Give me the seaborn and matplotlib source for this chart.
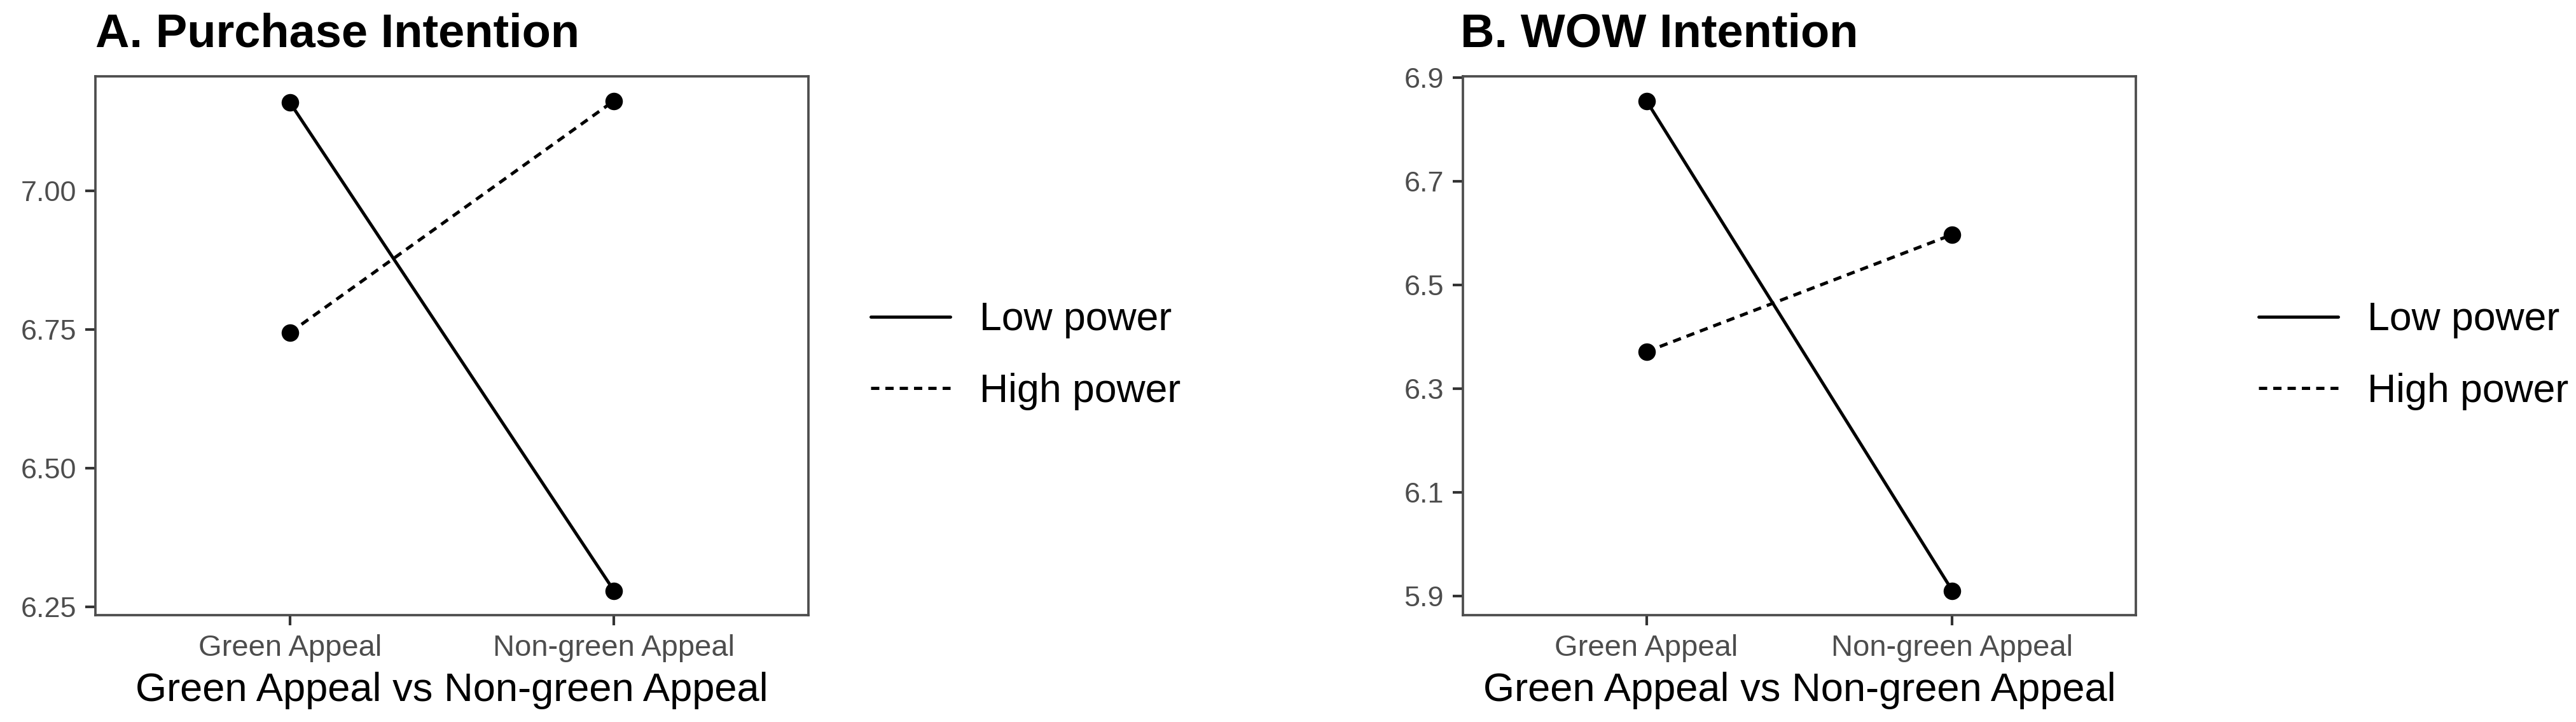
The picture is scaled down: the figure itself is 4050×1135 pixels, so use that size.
import numpy as np
import pandas as pd
import matplotlib
matplotlib.use("Agg")
import matplotlib.pyplot as plt
from matplotlib.lines import Line2D
import seaborn as sns

# values
conditions = ["Green Appeal", "Non-green Appeal"]
powers = ["Low power", "High power"]
purchase_low = [7.159, 6.279]
purchase_high = [6.744, 7.162]
wow_low = [6.855, 5.910]
wow_high = [6.371, 6.597]

purchase_ticks = [6.25, 6.50, 6.75, 7.00]
wow_ticks = [5.9, 6.1, 6.3, 6.5, 6.7, 6.9]

titles = ["A. Purchase Intention", "B. WOW Intention"]
xlabel = "Green Appeal vs Non-green Appeal"

sns.set_style("white")
plt.rcParams['font.family'] = ['Liberation Sans', 'DejaVu Sans']

W, H = 4050, 1135
DPI = 300
fig = plt.figure(figsize=(W / DPI, H / DPI), dpi=DPI)

DASH = (0, (2.6, 1.9))
LW = 1.2


def make_df(low, high):
    return pd.DataFrame({
        'condition': conditions * 2,
        'power': [powers[0]] * 2 + [powers[1]] * 2,
        'value': list(low) + list(high),
    })


def draw_panel(rect, df, ticks, fmt, title, title_x, legend_x):
    ax = fig.add_axes(rect)
    sns.lineplot(data=df, x='condition', y='value', style='power',
                 style_order=powers, color='black', markers={p: 'o' for p in powers},
                 dashes={powers[0]: '', powers[1]: DASH[1]},
                 linewidth=LW, markersize=6.6, markeredgewidth=0,
                 legend=False, ax=ax, sort=False)
    lo, hi = df['value'].min(), df['value'].max()
    pad = (hi - lo) * 0.05
    ax.set_ylim(lo - pad, hi + pad)
    ax.set_xlim(-0.6, 1.6)
    ax.set_xticks([0, 1])
    ax.set_xticklabels(conditions)
    ax.set_yticks(ticks)
    ax.set_yticklabels([fmt % t for t in ticks])
    ax.tick_params(axis='both', bottom=True, left=True, length=3.8, width=1.0,
                   color='#333333', labelcolor='#4d4d4d', pad=3.4)
    ax.tick_params(axis='y', labelsize=10.8)
    ax.tick_params(axis='x', labelsize=11.3)
    for s in ax.spines.values():
        s.set_visible(True)
        s.set_color('#4d4d4d')
        s.set_linewidth(0.9)
    ax.grid(False)
    ax.set_ylabel('')
    ax.set_xlabel(xlabel, fontsize=15.2, color='black', labelpad=3.5)
    fig.text(title_x / W, 1 - 73 / H, title, fontsize=17.8, fontweight='bold',
             color='black', ha='left', va='baseline')
    handles = [Line2D([], [], color='black', lw=LW, ls='-'),
               Line2D([], [], color='black', lw=LW, ls=DASH)]
    fig.legend(handles, powers, loc='center left',
               bbox_to_anchor=(legend_x / W, 1 - 559 / H), frameon=False,
               fontsize=15, handlelength=2.0, handletextpad=0.74,
               labelspacing=0.85, borderpad=0, borderaxespad=0,
               labelcolor='black')
    return ax


top, bottom = 120, 967
draw_panel([150 / W, 1 - bottom / H, 1121 / W, (bottom - top) / H],
           make_df(purchase_low, purchase_high), purchase_ticks, '%.2f',
           titles[0], 150, 1369)
draw_panel([2300 / W, 1 - bottom / H, 1058 / W, (bottom - top) / H],
           make_df(wow_low, wow_high), wow_ticks, '%.1f',
           titles[1], 2296, 3551)

fig.savefig("out.png", dpi=DPI, facecolor='white')
